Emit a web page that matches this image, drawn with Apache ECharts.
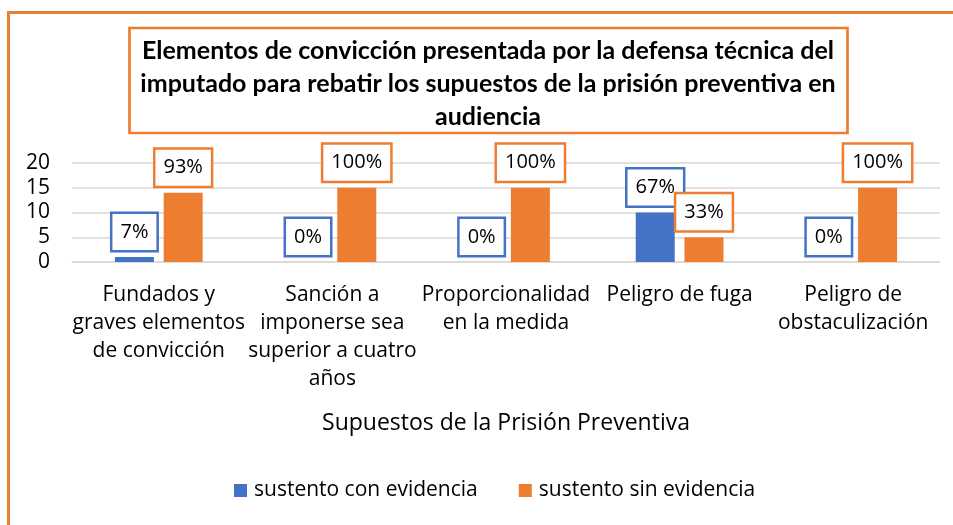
<!DOCTYPE html>
<html>
<head>
<meta charset="utf-8">
<script src="https://cdn.jsdelivr.net/npm/echarts@6/dist/echarts.min.js"></script>
<style>html,body{margin:0;padding:0;background:#fff}#c{width:953px;height:525px}</style>
</head>
<body>
<div id="c"></div>
<script>
const titleText = 'Elementos de convicción presentada por la defensa técnica del\nimputado para rebatir los supuestos de la prisión preventiva en\naudiencia';
const categories = [
  'Fundados y\ngraves elementos\nde convicción',
  'Sanción a\nimponerse sea\nsuperior a cuatro\naños',
  'Proporcionalidad\nen la medida',
  'Peligro de fuga',
  'Peligro de\nobstaculización'
];
const seriesNames = ['sustento con evidencia', 'sustento sin evidencia'];
const conEvidencia = [1, 0, 0, 10, 0];
const sinEvidencia = [14, 15, 15, 5, 15];
const conPct = ['7%', '0%', '0%', '67%', '0%'];
const sinPct = ['93%', '100%', '100%', '33%', '100%'];
const xAxisName = 'Supuestos de la Prisión Preventiva';

const BLUE = '#4472C4', ORANGE = '#ED7D31';
const FONT = 'Open Sans';

function boxLabel(color, pcts) {
  return {
    show: true, position: 'top', distance: 7,
    formatter: p => pcts[p.dataIndex],
    fontFamily: FONT, fontSize: 20, color: '#000', lineHeight: 22,
    backgroundColor: '#fff', borderColor: color, borderWidth: 2.5,
    padding: [7, 8]
  };
}

const chart = echarts.init(document.getElementById('c'), null, {renderer: 'canvas'});
chart.setOption({
  animation: false,
  backgroundColor: '#fff',
  graphic: [
    {type: 'rect', shape: {x: 8.5, y: 12.5, width: 1000, height: 600},
     style: {fill: 'none', stroke: ORANGE, lineWidth: 3}, z: 0, silent: true},
    {type: 'rect', shape: {x: 129.5, y: 28, width: 718, height: 105},
     style: {fill: '#fff', stroke: ORANGE, lineWidth: 2.7}, z: 10, silent: true},
    {type: 'text', x: 488, y: 34, z: 11,
     style: {text: titleText, align: 'center', verticalAlign: 'top',
             font: 'bold 25px Lato', lineHeight: 33, fill: '#000'}}
  ],
  grid: {left: 72, right: 13, top: 163, bottom: 263, containLabel: false},
  legend: {
    bottom: 19, left: 229,
    itemWidth: 13, itemHeight: 13, itemGap: 41,
    icon: 'rect',
    textStyle: {fontFamily: FONT, fontSize: 21, color: '#000', padding: [0, 0, 0, 2]},
    data: seriesNames
  },
  xAxis: {
    type: 'category', data: categories,
    axisLine: {lineStyle: {color: '#D9D9D9', width: 1.5}},
    axisTick: {show: false},
    axisLabel: {fontFamily: FONT, fontSize: 21, color: '#000', lineHeight: 28, margin: 19, interval: 0},
    name: xAxisName, nameLocation: 'middle', nameGap: 148,
    nameTextStyle: {fontFamily: FONT, fontSize: 23, color: '#000', verticalAlign: 'top', lineHeight: 26}
  },
  yAxis: {
    type: 'value', min: 0, max: 20, interval: 5,
    axisLine: {show: false}, axisTick: {show: false},
    splitLine: {lineStyle: {color: '#D9D9D9', width: 1.5}},
    axisLabel: {fontFamily: FONT, fontSize: 21, color: '#000', margin: 22}
  },
  series: [
    {name: seriesNames[0], type: 'bar', data: conEvidencia, barWidth: 39, barGap: '25%',
     itemStyle: {color: BLUE}, label: boxLabel(BLUE, conPct)},
    {name: seriesNames[1], type: 'bar', data: sinEvidencia, barWidth: 39, barGap: '25%',
     itemStyle: {color: ORANGE}, label: boxLabel(ORANGE, sinPct)}
  ]
});
</script>
</body>
</html>
